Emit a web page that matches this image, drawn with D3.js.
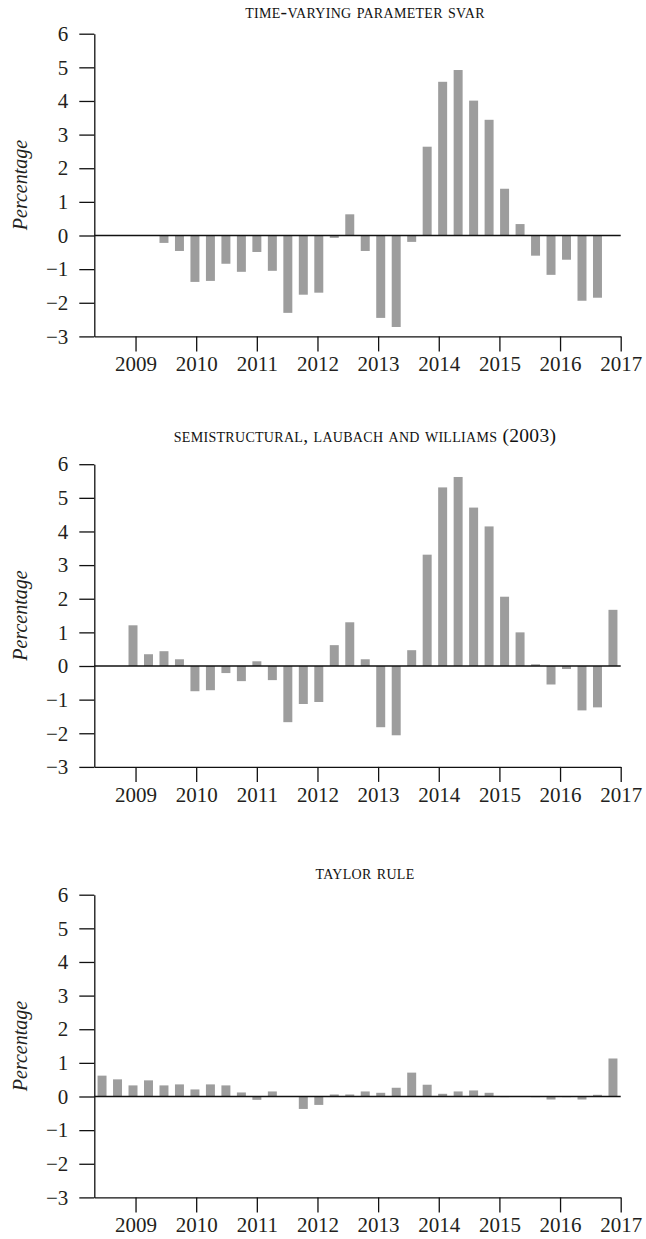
<!DOCTYPE html>
<html>
<head>
<meta charset="utf-8">
<script src="https://cdn.jsdelivr.net/npm/d3@7/dist/d3.min.js"></script>
<style>
  body { margin: 0; background: #fff; }
  text { font-family: "Liberation Serif", "Times New Roman", serif; fill: #231f20; }
</style>
</head>
<body>
<svg id="chart" width="646" height="1239"></svg>
<script>
// quarterly categories, 2008Q3 .. 2016Q4
const quarters = ["2008Q3","2008Q4",
  "2009Q1","2009Q2","2009Q3","2009Q4",
  "2010Q1","2010Q2","2010Q3","2010Q4",
  "2011Q1","2011Q2","2011Q3","2011Q4",
  "2012Q1","2012Q2","2012Q3","2012Q4",
  "2013Q1","2013Q2","2013Q3","2013Q4",
  "2014Q1","2014Q2","2014Q3","2014Q4",
  "2015Q1","2015Q2","2015Q3","2015Q4",
  "2016Q1","2016Q2","2016Q3","2016Q4"];

// percentage values (null = no bar)
const tvpSvar = [null, null, null, null, -0.22, -0.46, -1.38, -1.35, -0.84, -1.08,
  -0.49, -1.05, -2.30, -1.76, -1.70, -0.07, 0.63, -0.46, -2.45, -2.72,
  -0.19, 2.64, 4.57, 4.92, 4.01, 3.44, 1.39, 0.34, -0.60, -1.17,
  -0.72, -1.94, -1.85, null];
const laubachWilliams = [null, null, 1.21, 0.35, 0.44, 0.20, -0.75, -0.72, -0.21, -0.45,
  0.14, -0.42, -1.67, -1.13, -1.07, 0.62, 1.30, 0.20, -1.82, -2.06,
  0.47, 3.31, 5.31, 5.62, 4.71, 4.15, 2.06, 1.00, 0.05, -0.55,
  -0.09, -1.32, -1.23, 1.67];
const taylorRule = [0.62, 0.51, 0.33, 0.48, 0.33, 0.36, 0.21, 0.36, 0.33, 0.12,
  -0.10, 0.15, 0.01, -0.37, -0.25, 0.06, 0.06, 0.15, 0.11, 0.26,
  0.71, 0.35, 0.08, 0.15, 0.18, 0.11, -0.02, 0.01, -0.02, -0.09,
  -0.02, -0.09, 0.05, 1.13];

const yearTicks = [2009, 2010, 2011, 2012, 2013, 2014, 2015, 2016, 2017];
const valueTicks = [-3, -2, -1, 0, 1, 2, 3, 4, 5, 6];
const titles = ["time-varying parameter svar",
  "semistructural, laubach and williams (2003)",
  "taylor rule"];
const panelSeries = [tvpSvar, laubachWilliams, taylorRule];

const margin = {left: 94.3, right: 25.3};
const width = 646 - margin.left - margin.right;
const height = 302.7;
const panelTops = [33.7, 464.2, 894.7];
const titleBaselines = [18, 441.7, 879.3];

const svg = d3.select("#chart");

const x = d3.scaleBand()
  .domain(quarters)
  .range([0, width])
  .paddingInner(0.42)
  .paddingOuter(0.21);

const yearScale = d3.scaleLinear()
  .domain([2008.32, 2017])
  .range([0, width]);

const y = d3.scaleLinear()
  .domain([-3, 6])
  .range([height, 0]);

panelSeries.forEach(function (series, i) {
  const data = quarters.map(function (q, j) { return {key: q, value: series[j]}; })
    .filter(function (d) { return d.value !== null; });

  const g = svg.append("g")
    .attr("transform", "translate(" + margin.left + "," + panelTops[i] + ")");

  svg.append("text")
    .attr("x", 365)
    .attr("y", titleBaselines[i])
    .attr("text-anchor", "middle")
    .style("font-size", "19.5px")
    .style("letter-spacing", "0.3px")
    .style("font-variant", "small-caps")
    .style("fill", "#111")
    .text(titles[i]);

  // bars
  g.selectAll("rect.bar")
    .data(data)
    .enter().append("rect")
    .attr("class", "bar")
    .attr("x", function (d) { return x(d.key); })
    .attr("width", x.bandwidth())
    .attr("y", function (d) { return y(Math.max(0, d.value)); })
    .attr("height", function (d) { return Math.abs(y(d.value) - y(0)); })
    .attr("fill", "#9d9d9d");

  // zero line
  g.append("line")
    .attr("x1", 0).attr("x2", width)
    .attr("y1", y(0)).attr("y2", y(0))
    .attr("stroke", "#111")
    .attr("stroke-width", 1.3);

  const yAxis = g.append("g")
    .call(d3.axisLeft(y).tickValues(valueTicks).tickSize(15).tickPadding(11)
      .tickSizeOuter(0).tickFormat(function (d) { return d < 0 ? "\u2212" + Math.abs(d) : d; }));

  const xAxis = g.append("g")
    .attr("transform", "translate(0," + height + ")")
    .call(d3.axisBottom(yearScale).tickValues(yearTicks).tickSize(15).tickPadding(5)
      .tickSizeOuter(0).tickFormat(d3.format("d")));

  [yAxis, xAxis].forEach(function (ax) {
    ax.selectAll(".domain").attr("stroke", "#111").attr("stroke-width", 1.3);
    ax.selectAll(".tick line").attr("stroke", "#111").attr("stroke-width", 1.3);
    ax.selectAll(".tick text")
      .style("font-family", "'Liberation Serif', serif")
      .style("font-size", "21px")
      .attr("fill", "#231f20");
  });

  g.append("text")
    .attr("transform", "rotate(-90)")
    .attr("x", -height / 2)
    .attr("y", 27 - margin.left)
    .attr("text-anchor", "middle")
    .style("font-size", "20px")
    .style("font-style", "italic")
    .text("Percentage");
});
</script>
</body>
</html>
